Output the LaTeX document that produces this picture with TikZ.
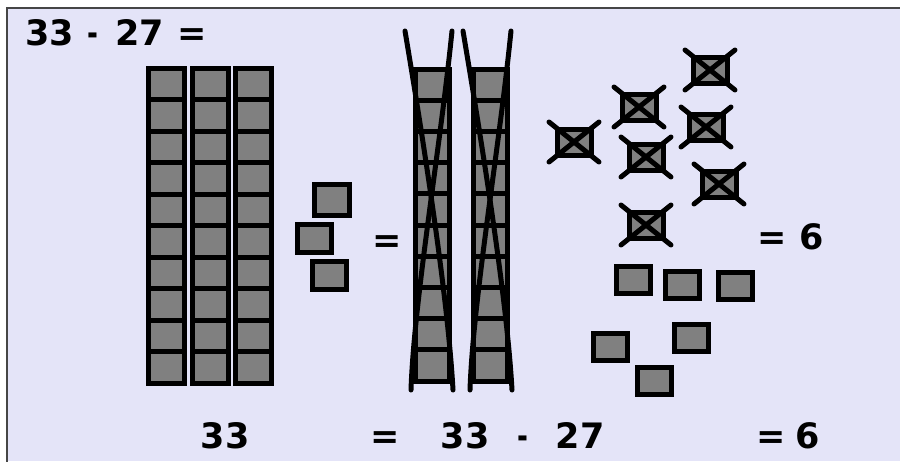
\documentclass[tikz,border=0pt]{standalone}
\usepackage{fontspec}
\setmainfont{DejaVu Sans}
\usetikzlibrary{calc}
\definecolor{paper}{RGB}{228,228,248}
\definecolor{framegray}{RGB}{70,70,70}
\definecolor{cellgray}{RGB}{128,128,128}
\tikzset{
  cell/.style={draw=black, fill=cellgray, line width=5pt},
  strike/.style={draw=black, line width=5pt, line cap=round},
  num/.style={font=\bfseries\fontsize{35}{35}\selectfont, anchor=base, inner sep=0pt},
}
% short minus sign
\newcommand{\shortminus}{\scalebox{0.75}[1]{-}}
% a unit square centred at #1
\newcommand{\unitsq}[1]{\draw[cell] ($(#1)+(-17,-13.5)$) rectangle ($(#1)+(17,13.5)$);}
% a crossed-out unit square centred at #1
\newcommand{\crossedsq}[1]{%
  \draw[cell] ($(#1)+(-17,-13)$) rectangle ($(#1)+(17,13)$);
  \draw[strike] ($(#1)+(-25,-20)$) -- ($(#1)+(25,20)$);
  \draw[strike] ($(#1)+(25,-20)$) -- ($(#1)+(-25,20)$);}
\begin{document}
\begin{tikzpicture}[x=1pt,y=-1pt]
\useasboundingbox (0,0) rectangle (900,461);
% sheet and frame
\fill[white] (0,0) rectangle (900,461);
\fill[paper] (7,8) rectangle (900,461);
\draw[framegray, line width=2.5pt] (7,470) -- (7,8) -- (910,8);

% heading
\node[num] (h33) at (49.5,45) {33};
\node[num] (hminus) at (93,45) {\shortminus};
\node[num] (h27) at (139.5,45) {27};
\node[num] (heq) at (192.5,45) {=};

% three tens rods
\foreach \x in {148,192,235}
  \foreach \k in {0,...,9}
    \draw[cell] (\x,{68+31.5*\k}) rectangle ({\x+36},{68+31.5*(\k+1)});

% three ones
\draw[cell] (314,184) rectangle (349,215);
\draw[cell] (297,224) rectangle (331,252);
\draw[cell] (312,261) rectangle (346,289);

\node[num] (eqa) at (387,252) {=};

% two tens rods, crossed out
\foreach \x in {415,473}
  \foreach \k in {0,...,9}
    \draw[cell] (\x,{69+31.2*\k}) rectangle ({\x+34},{69+31.2*(\k+1)});
\draw[strike] (405,31) .. controls (425,150) and (448,300) .. (453,390);
\draw[strike] (452,31) .. controls (440,150) and (414,300) .. (411,390);
\draw[strike] (463,31) .. controls (483,150) and (507,300) .. (512,390);
\draw[strike] (511,31) .. controls (499,150) and (473,300) .. (470,390);

% seven ones, crossed out
\coordinate (c1) at (574,142);
\coordinate (c2) at (639,107);
\coordinate (c3) at (710,70);
\coordinate (c4) at (706,127);
\coordinate (c5) at (646,157);
\coordinate (c6) at (719,184);
\coordinate (c7) at (646,225);
\foreach \c in {c1,c2,c3,c4,c5,c6,c7} {\crossedsq{\c}}

\node[num] (eqb) at (772,249) {=};
\node[num] (sixa) at (812,249) {6};

% six ones left over
\coordinate (u1) at (633,280);
\coordinate (u2) at (682,285);
\coordinate (u3) at (735,286);
\coordinate (u4) at (610,347);
\coordinate (u5) at (691,338);
\coordinate (u6) at (654,381);
\foreach \c in {u1,u2,u3,u4,u5,u6} {\unitsq{\c}}

% bottom line
\node[num] (b33) at (225,448) {33};
\node[num] (beq) at (385,448) {=};
\node[num] (b33b) at (465,448) {33};
\node[num] (bminus) at (523,448) {\shortminus};
\node[num] (b27) at (580,448) {27};
\node[num] (beq2) at (771,448) {=};
\node[num] (bsix) at (808,448) {6};
\end{tikzpicture}
\end{document}
